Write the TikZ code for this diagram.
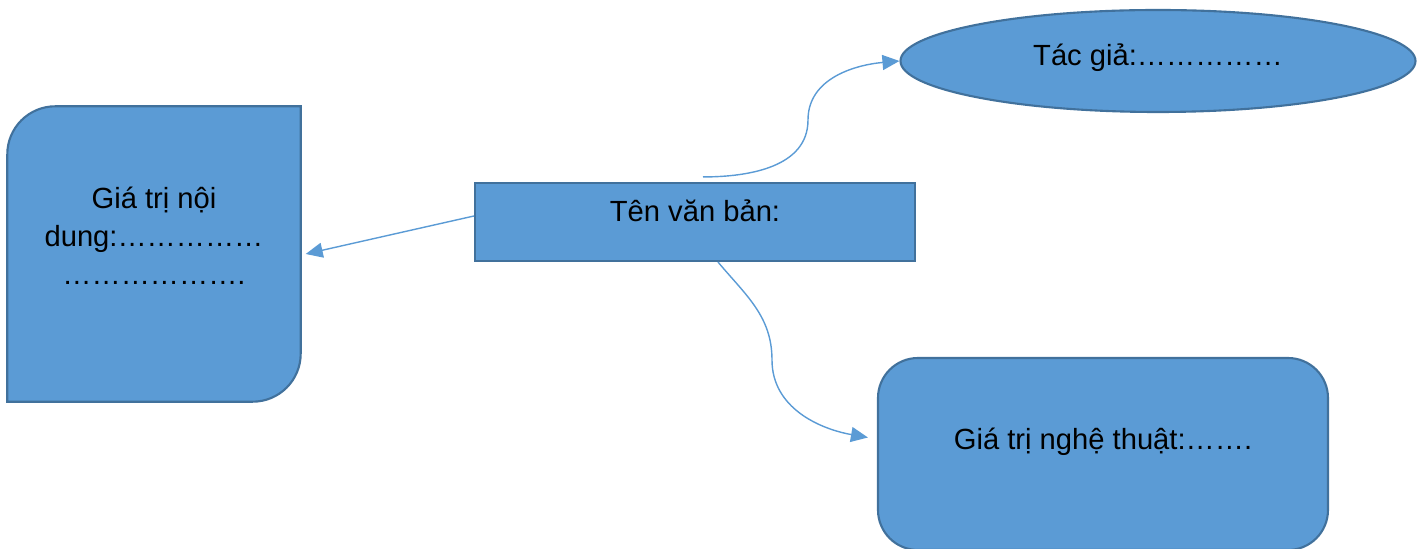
\documentclass[tikz,border=0pt]{standalone}
\usepackage{fontspec}
\setmainfont{Liberation Sans}
\usetikzlibrary{shapes.geometric,arrows.meta,backgrounds}
\definecolor{boxfill}{HTML}{5B9BD5}
\definecolor{boxline}{HTML}{41719C}
\begin{document}
\begin{tikzpicture}[
    every node/.style={font=\fontsize{8.3}{10.8}\selectfont},
    shapebox/.style={fill=boxfill, draw=boxline, line width=.6pt},
    link/.style={draw=boxfill, line width=.4pt, -{Triangle[length=.17cm,width=.15cm]}}]
  \useasboundingbox (0,0) rectangle (14.22,-5.49);

  \node [shapebox, rectangle, minimum width=4.4cm, minimum height=.78cm, inner sep=0,
         text height=.22cm, text depth=.22cm] (ten) at (6.95,-2.22) {Tên văn bản:};
  \node [shapebox, ellipse, minimum width=5.15cm, minimum height=1.02cm, inner sep=0,
         text height=.22cm, text depth=.12cm] (tacgia) at (11.58,-.61) {Tác giả:……………};
  \node [shapebox, rectangle, rounded corners=.4cm, minimum width=4.5cm, minimum height=1.92cm,
         inner sep=0, text height=.22cm, text depth=.30cm] (nghethuat) at (11.03,-4.54)
        {Giá trị nghệ thuật:…….};
  \node [rectangle, minimum width=2.92cm, minimum height=2.94cm, inner sep=0,
         label={[name=noidungtext, align=center, yshift=.18cm]center:Giá trị nội\\dung:……………\\……………….}]
        (noidung) at (1.54,-2.54) {};
  \begin{pgfonlayer}{background}
    \draw [shapebox] (noidung.south west) [rounded corners=.48cm] -- (noidung.north west)
      [sharp corners] -- (noidung.north east) [rounded corners=.48cm] -- (noidung.south east)
      [sharp corners] -- cycle;
  \end{pgfonlayer}

  \coordinate (up) at (8.08,-1.2);
  \coordinate (down) at (7.72,-3.6);
  \draw [link] ([yshift=.06cm]ten.west) -- ([xshift=.05cm]noidung.east);
  \draw [link] ([shift={(.08,.05)}]ten.north) to [out=0,in=-90] (up) to [out=90,in=185] (tacgia.west);
  \draw [link] ([xshift=.23cm]ten.south) to [out=-50,in=90] (down) to [out=-90,in=170]
    ([shift={(-.09,.165)}]nghethuat.west);
\end{tikzpicture}
\end{document}
